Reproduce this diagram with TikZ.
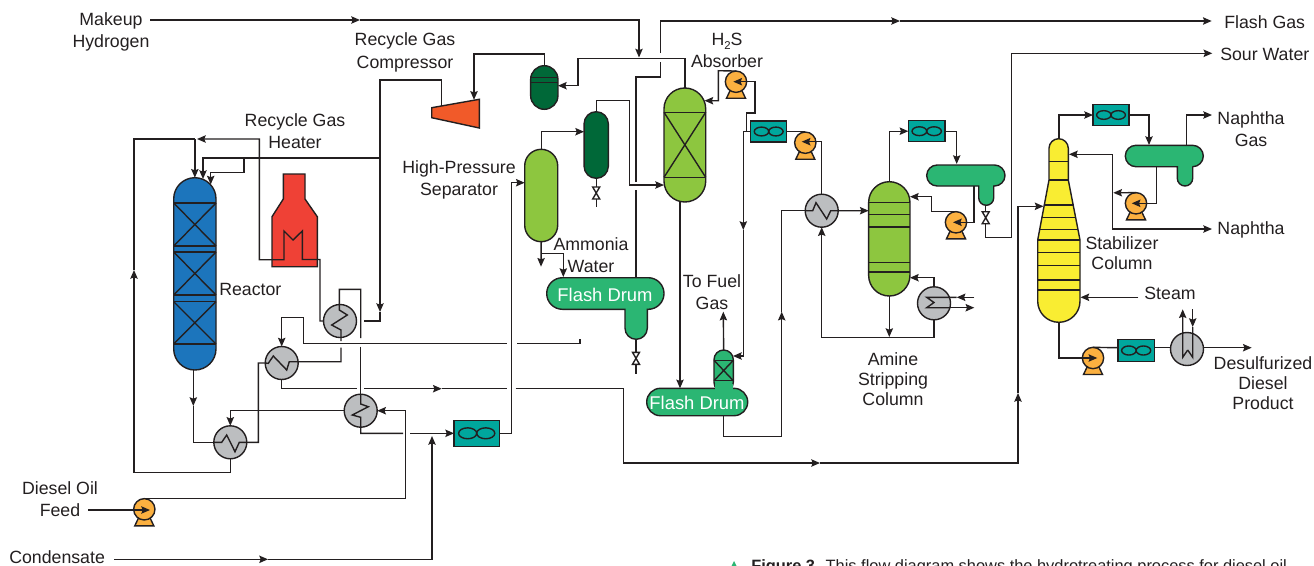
\documentclass[tikz,border=0pt]{standalone}
\usepackage{fontspec}
\setmainfont{Liberation Sans}
\usetikzlibrary{arrows.meta}
\definecolor{ink}{HTML}{231F20}
\definecolor{cblue}{HTML}{1C75BC}
\definecolor{cred}{HTML}{EF4136}
\definecolor{corange}{HTML}{F15A29}
\definecolor{clime}{HTML}{8DC63F}
\definecolor{cdark}{HTML}{006838}
\definecolor{cdrum}{HTML}{2BB673}
\definecolor{cteal}{HTML}{00A79D}
\definecolor{cyel}{HTML}{F9ED32}
\definecolor{cgray}{HTML}{BCBEC0}
\definecolor{cpump}{HTML}{FBB040}
\tikzset{
  pipe/.style={draw=ink,line width=1.05pt},
  flow/.style={pipe,-{Stealth[length=6.5pt,width=5.5pt,inset=1pt]}},
  eq/.style={draw=ink,line width=1.05pt,inner sep=0pt,outer sep=0pt,rectangle},
  ghost/.style={inner sep=0pt,outer sep=0pt,rectangle},
  hx/.style={eq,circle,fill=cgray,minimum size=24.75pt},
  lab/.style={font=\fontsize{13.3}{16.5}\selectfont,align=center,text=ink,inner sep=0pt},
  wlab/.style={lab,text=white,font=\fontsize{13.8}{16.5}\selectfont},
}
% name, cx, top, width, bottom, radius, fill
\newcommand\Vsl[7]{\node[eq,fill=#7,minimum width=#4*0.75pt,minimum height={(#5-#3)*0.75pt},rounded corners=#6*0.75pt] (#1) at (#2,{(#3+#5)/2}) {};}
% name, list of y
\newcommand\Trays[2]{\foreach \yy in {#2}{\draw[pipe] (#1.west |- 0,\yy) -- (#1.east |- 0,\yy);}}
% name, y1, y2
\newcommand\XBed[3]{\draw[pipe] (#1.west |- 0,#2) -- (#1.east |- 0,#3) (#1.east |- 0,#2) -- (#1.west |- 0,#3);}
% name, cx, cy, w, h
\newcommand\Cool[5]{\node[eq,fill=cteal,minimum width=#4*0.75pt,minimum height=#5*0.75pt] (#1) at (#2,#3) {};
  \draw[pipe] ({#2-0.2*#4},#3) ellipse [x radius={0.2*#4},y radius={0.21*#5}];
  \draw[pipe] ({#2+0.2*#4},#3) ellipse [x radius={0.2*#4},y radius={0.21*#5}];}
% name, cx, cy
\newcommand\Pump[3]{\draw[eq,fill=cpump] ({#2-9.5},{#3+16.5}) -- ({#2-5},{#3+7}) -- ({#2+5},{#3+7}) -- ({#2+9.5},{#3+16.5}) -- cycle;
  \node[eq,circle,fill=cpump,minimum size=16pt] (#1) at (#2,#3) {};}
% name, x, y
\newcommand\Valve[3]{\draw[pipe,fill=white] ({#2-3.5},{#3-6}) -- ({#2+3.5},{#3-6}) -- ({#2-3.5},{#3+6}) -- ({#2+3.5},{#3+6}) -- cycle;
  \coordinate (#1) at (#2,#3);}
% name, x1, x2, y1, y2, bootx1, bootx2, booty
\newcommand\Drum[8]{\draw[eq,fill=cdrum] ({#2+(#5-#4)/2},#4) -- ({#3-(#5-#4)/2},#4)
   arc[start angle=270,end angle=450,radius={(#5-#4)/2}] -- (#7,#5) -- (#7,{#8-(#7-#6)/2})
   arc[start angle=0,end angle=180,radius={(#7-#6)/2}] -- (#6,#5) -- ({#2+(#5-#4)/2},#5)
   arc[start angle=90,end angle=270,radius={(#5-#4)/2}] -- cycle;
  \node[ghost,minimum width={(#3-#2)*0.75pt},minimum height={(#8-#4)*0.75pt}] (#1) at ({(#2+#3)/2},{(#4+#8)/2}) {};}
\begin{document}
\begin{tikzpicture}[x=0.75pt,y=-0.75pt]
\useasboundingbox (0,0) rectangle (1314,565);

% ---------- equipment ----------
% reactor
\Vsl{reac}{194.85}{177.7}{42.3}{370}{21.15}{cblue}
\Trays{reac}{203,246,252,295,301.7,344}
\XBed{reac}{203}{246}\XBed{reac}{252}{295}\XBed{reac}{301.7}{344}
% furnace
\draw[eq,fill=cred] (283.3,174) -- (305,174) -- (305,199) -- (317.3,216.7) -- (317.3,266.7) -- (272,266.7) -- (272,216.7) -- (283.3,199) -- cycle;
\node[ghost,minimum width=34pt,minimum height=69pt] (furn) at (294.7,220.4) {};
% compressor
\draw[eq,fill=corange] (431.7,107.7) -- (479.3,99.3) -- (479.3,128) -- (431.7,117.7) -- cycle;
\coordinate (compout) at (441.7,106);
\coordinate (compin) at (474,99.8);
% knock-out drum
\Vsl{ko}{544.3}{65.7}{27.3}{109.3}{13.65}{cdark}
\Trays{ko}{77.7,82.3}
% high pressure separator
\Vsl{hps}{541.2}{149.3}{33}{241.7}{16.5}{clime}
% dark vessel
\Vsl{dark}{596.2}{111.7}{24.3}{178.3}{12.15}{cdark}
% absorber
\Vsl{abs}{684.85}{88}{41.7}{202}{20.85}{clime}
\Trays{abs}{112.3,177.3}
\XBed{abs}{112.3}{177.3}
% flash drums
\Drum{fdone}{546.7}{664}{277.7}{309.3}{625}{647.3}{339.3}
\Vsl{scr}{723.65}{350}{19.3}{392}{9.65}{cdrum}
\Trays{scr}{360.3,380.7}
\XBed{scr}{360.3}{380.7}
\Vsl{fdtwo}{697.2}{388.3}{101}{415.7}{13.7}{cdrum}
\fill[cdrum] (714.8,384) rectangle (732.5,391);
% amine column
\Vsl{amine}{889.3}{181.7}{41.3}{296}{20.65}{clime}
\Trays{amine}{202.7,214.7,227,262.7,272}
% reflux drums
\Drum{refa}{926.7}{1005}{165}{186}{978.7}{993.7}{205.3}
\Drum{refb}{1125.3}{1203.3}{145.3}{166.7}{1177.3}{1192.7}{186}
% stabilizer
\draw[eq,fill=cyel] (1049,148.35) arc[start angle=180,end angle=360,radius=9.65] -- (1068.3,180) -- (1080,240) -- (1080,301.15)
   arc[start angle=0,end angle=180,radius=21.15] -- (1037.7,240) -- (1049,180) -- cycle;
\draw[pipe] (1049,161.7) -- (1068.3,161.7);
\draw[pipe] (1049,180) -- (1068.3,180);
\draw[pipe] (1044,205) -- (1073.2,205);
\draw[pipe] (1041.6,217.7) -- (1075.6,217.7);
\draw[pipe] (1039.4,229.3) -- (1078,229.3);
\foreach \yy in {240,252.3,265.7,280,290}{\draw[pipe] (1037.7,\yy) -- (1080,\yy);}
\node[ghost,minimum width=31.7pt,minimum height=137.7pt] (stab) at (1058.85,230.5) {};
% air coolers
\Cool{cooa}{476.7}{433.3}{45.3}{26}
\Cool{coob}{768.7}{131.5}{36}{21}
\Cool{cooc}{926.7}{131.2}{36.7}{21}
\Cool{cood}{1111}{115}{36}{20.6}
\Cool{cooe}{1136.15}{350.5}{36.3}{21.6}
% exchangers
\node[hx] (hxa) at (340,321) {};
\node[hx] (hxb) at (281.7,363) {};
\node[hx] (hxc) at (230.3,442.3) {};
\node[hx] (hxd) at (360.7,410.7) {};
\node[hx] (hxe) at (821.7,210.7) {};
\node[hx] (hxf) at (934,303.3) {};
\node[hx] (hxg) at (1187,349) {};
% pumps
\Pump{pua}{144.3}{509.3}
\Pump{pub}{736}{81.7}
\Pump{puc}{805.3}{142.7}
\Pump{pud}{956}{222.3}
\Pump{pue}{1136}{203.3}
\Pump{puf}{1093}{358}

% ---------- free ends ----------
\coordinate (mkin) at (150,20);
\coordinate (mkmid) at (360,20);
\coordinate (fgmid) at (900,21);
\coordinate (fgout) at (1211.7,21);
\coordinate (swout) at (1212.3,53.3);
\coordinate (napgas) at (1212,115);
\coordinate (napout) at (1212,229);
\coordinate (feedin) at (88,510);
\coordinate (conin) at (114,559.3);
\coordinate (conmid) at (268,559.3);
\coordinate (stin) at (1138.3,297.3);
\coordinate (prodout) at (1251.7,347.7);
\coordinate (ammout) at (541,266.7);
\coordinate (fuelout) at (723.3,311.7);
\coordinate (cwiin) at (974.3,297.3);
\coordinate (cwiout) at (974.3,307.7);

% ---------- top lines ----------
\draw[flow] (mkin) -- (mkmid);
\draw[flow] (mkmid) -- (639,20) -- (639,57.5);
\draw[flow] (abs.north) |- (578,58.7) |- (ko.east |- 0,85.7);
\draw[flow] (ko.north) |- (474,54) -- (compin);
\draw[flow] (compout) |- (380,80) -- (380,312);
\draw[pipe] (380,312) -- (380,321) -- (364,321);
\draw[pipe] (fdone.north -| 636,0) -- (636,190);
\draw[pipe] (636,182) -- (636,77) -- (660.7,77) -- (660.7,62);
\draw[flow] (660.7,53) |- (fgmid);
\draw[flow] (fgmid) -- (fgout);
% reactor feeds
\draw[flow] (380,158) -| (203,179);
\draw[flow] (244,158) |- (210.7,172.7) -- (210.7,184.5);
\draw[flow] (hxc.south) -- (230.3,472.3) -| (134,270);
\draw[pipe] (134,270) |- (reac.north |- 0,139);
\draw[flow] (reac.north |- 0,139) -- (reac.north);
% furnace coil
\draw[flow] (hxa.west) -- (320,321) -- (320,259.5) -- (302.3,259.5) -- (302.3,231) -- (293,240) -- (284,231) -- (284,259.7) -- (259.3,259.7) -- (259.3,139) -- (197,139);
% reactor outlet and exchanger train
\draw[flow] (reac.south -| 193.3,0) -- (193.3,406);
\draw[pipe] (193.3,406) |- (hxc.west);
\draw[pipe] (hxc.west) -- (221.7,442.3) -- (226.7,435) -- (235,451.7) -- (239.3,442.3) -- (258.3,442.3) |- (hxb.west);
\draw[pipe] (hxb.west) -- (268.3,363.3) -- (273.3,356) -- (286.7,370) -- (289.3,361.7) -- (341,361.7) -- (341,347.7);
\draw[pipe] (341,341) -- (341,330) -- (331.7,325) -- (347.3,315) -- (339.3,310) -- (339.3,289.3) -- (360.7,289.3) -- (360.7,338);
\draw[pipe] (360.7,346.7) -- (hxd.north);
\draw[pipe] (fdone.south -| 580,0) -- (580,343.3) -- (516.7,343.3);
\draw[flow] (506.7,343.3) -- (303.3,343.3) -- (303.3,317.3) -- (281.7,317.3) -- (hxb.north);
\draw[pipe] (hxb.south) |- (357,388.7);
\draw[flow] (364,388.7) -- (441.7,388.7);
\draw[pipe] (441.7,388.7) -- (507,388.7);
\draw[pipe] (515.7,388.7) -| (623.3,463);
\draw[flow] (623.3,463) -- (820,463);
\draw[flow] (820,463) -| (1018,393);
\draw[flow] (1018,393) |- (1043.5,206.3);
\draw[pipe] (hxd.north) -- (360.7,404) -- (368.3,406.7) -- (352.3,415) -- (360.7,417.3) -- (360.7,433.3) -- (403,433.3);
\draw[flow] (410,433.3) -- (cooa.west);
\draw[flow] (hxd.west) -| (hxc.north);
\draw[flow] (pua.north) -| (405.7,410.7) -- (hxd.east);
\draw[flow] (feedin) -- (150,510);
\draw[flow] (conin) -- (conmid);
\draw[flow] (conmid) -| (432,436);
\draw[flow] (cooa.east) -- (511.7,433.3) -- (511.7,182.7) -- (hps.west |- 0,182.7);
% separators
\draw[flow] (hps.north) |- (dark.west |- 0,131.7);
\draw[flow] (hps.south) -- (ammout);
\draw[flow] (541,253.3) -| (563.3,277);
\draw[flow] (dark.north) |- (629.3,100.7) |- (abs.west |- 0,185);
\draw[pipe] (dark.south) -- (596.2,206.7);
\Valve{vla}{596.2}{193}
\draw[pipe] (fdone.south -| 636,0) -- (636,374);
\Valve{vlb}{636}{358.3}
\draw[flow] (abs.south -| 680,0) -- (fdtwo.north -| 680,0);
% absorber circuit
\draw[flow] (pub.north) -- (718.3,70.7) -- (718.3,100.7) -- (704.5,100.7);
\draw[flow] (746.7,131.5) -- (746.7,113) -- (755,113) -- (755,81.7) -- (733.3,81.7);
\draw[flow] (coob.west) -- (743.3,131.5) -- (743.3,230);
\draw[flow] (743.3,230) -- (743.3,356) -- (733,356);
\draw[flow] (scr.north) -- (fuelout);
\draw[pipe] (coob.east) -- (805.3,131.5);
\draw[flow] (hxe.north) |- (801.7,141.7);
\draw[flow] (fdtwo.south -| 723.3,0) -- (723.3,436.7) -| (781.7,311.7);
\draw[pipe] (781.7,311.7) |- (hxe.west);
\draw[flow] (hxe.west) -- (812.7,210.7) -- (816,202.7) -- (826.7,219) -- (830.7,210.7) -- (amine.west |- 0,210.7);
% amine column
\draw[flow] (amine.south) -- (889.3,337);
\draw[flow] (hxf.south) |- (821.7,337.3) -- (hxe.south);
\draw[flow] (hxf.north) |- (amine.east |- 0,277.7);
\draw[flow] (cwiin) -- (956.7,297.3);
\draw[pipe] (956.7,297.3) -- (926.7,297.3) -- (934,302.5) -- (926.7,307.7) -- (950,307.7);
\draw[flow] (950,307.7) -- (cwiout);
\draw[flow] (amine.north) |- (cooc.west);
\draw[flow] (cooc.east) -| (956.7,164);
\draw[flow] (974,186) |- (953,222.3);
\draw[flow] (pud.north) -| (931.7,196.7) -- (amine.east |- 0,196.7);
\draw[pipe] (985.7,205.3) -- (985.7,237.7) -- (1011.7,237.7) -- (1011.7,53.3);
\draw[flow] (1011.7,53.3) -- (swout);
\Valve{vlc}{985.7}{217.7}
% stabilizer
\draw[flow] (stab.north) |- (cood.west);
\draw[flow] (cood.east) -| (1149,145);
\draw[flow] (1186.7,145.3) |- (napgas);
\draw[flow] (1156.7,166.7) |- (1131.7,203.3);
\draw[flow] (pue.north) -- (1113.3,192.8);
\draw[flow] (1112.3,229) -- (1112.3,154.3) -- (1069,154.3);
\draw[flow] (1112.3,229) -- (napout);
\draw[flow] (stin) -- (1080.5,297.3);
\draw[flow] (stab.south) |- (1097.3,358);
\draw[pipe] (puf.north) -- (cooe.west |- 0,347.7);
\draw[pipe] (cooe.east |- 0,347.7) -- (hxg.west |- 0,347.7);
\draw[flow] (hxg.east |- 0,347.7) -- (prodout);
\draw[flow] (1187.7,350) -- (1182.7,357.3) -- (1182.7,309.3);
\draw[flow] (1192.7,309.3) -- (1192.7,327);
\draw[pipe] (1192.7,327) -- (1192.7,357.3) -- (1187.7,350);

% ---------- labels ----------
\node[lab] (lmake) at (111,31.5) {Makeup\\Hydrogen};
\node[lab] (lcomp) at (405,52.5) {Recycle Gas\\[0.5pt]Compressor};
\node[lab] (labs) at (727,50) {H\raisebox{-0.5ex}{\fontsize{8.5}{9}\selectfont 2}S\\Absorber};
\node[lab] (lheat) at (295,131.5) {Recycle Gas\\Heater};
\node[lab] (lhps) at (459,180) {High-Pressure\\Separator};
\node[lab] (lamm) at (591,255) {Ammonia\\Water};
\node[lab,anchor=west] (lreac) at (219,289.5) {Reactor};
\node[lab] (lfuel) at (712,292.5) {To Fuel\\Gas};
\node[wlab] (lfda) at (605,295) {Flash Drum};
\node[wlab] (lfdb) at (697,403) {Flash Drum};
\node[lab] (lamine) at (893,379) {Amine\\[-1.5pt]Stripping\\[-1.5pt]Column};
\node[lab] (lstab) at (1122,253.5) {Stabilizer\\[-1.5pt]Column};
\node[lab] (lsteam) at (1170,293.5) {Steam};
\node[lab] (lnapg) at (1251,129) {Naphtha\\Gas};
\node[lab] (lnap) at (1251,230) {Naphtha};
\node[lab,anchor=west] (lfg) at (1224,22.5) {Flash Gas};
\node[lab,anchor=west] (lsw) at (1220,54.5) {Sour Water};
\node[lab] (lprod) at (1263,383.5) {Desulfurized\\[-1.5pt]Diesel\\[-1.5pt]Product};
\node[lab] (lfeed) at (60,499.5) {Diesel Oil\\Feed};
\node[lab,anchor=west] (lcon) at (9,557.5) {Condensate};

% ---------- caption sliver, cut by the edge ----------
\begin{scope}
\clip (0,0) rectangle (1314,565);
\fill[cdrum] (729,571) -- (739,571) -- (734,561) -- cycle;
\node[lab,anchor=base west,font=\fontsize{12.3}{14}\selectfont] (lcap) at (751,571.5) {\textbf{Figure 3.} This flow diagram shows the hydrotreating process for diesel oil};
\end{scope}
\end{tikzpicture}
\end{document}
